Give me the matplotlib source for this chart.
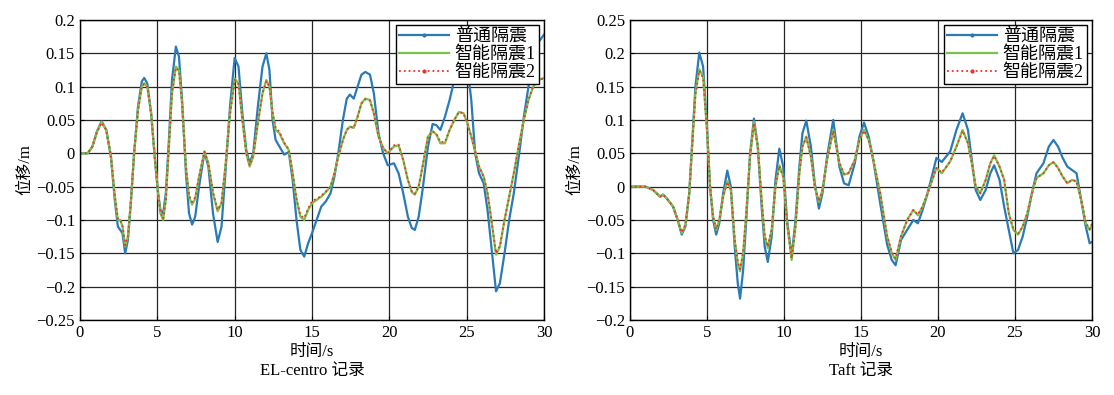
import matplotlib
matplotlib.use('Agg')
import matplotlib.pyplot as plt
import numpy as np
from matplotlib.ticker import FuncFormatter
from matplotlib.lines import Line2D

plt.rcParams['font.family'] = ['Liberation Serif', 'Noto Sans CJK SC', 'DejaVu Sans']
plt.rcParams['axes.unicode_minus'] = True

# ---------------- EL-centro 记录 ----------------
t_el = [0, 0.5, 0.8, 1.1, 1.4, 1.7, 2.0, 2.25, 2.45, 2.6, 2.75, 2.92, 3.1, 3.3, 3.5, 3.75,
        4.0, 4.15, 4.35, 4.6, 4.85, 5.05, 5.2, 5.38, 5.55, 5.75, 5.95, 6.2, 6.4, 6.6, 6.85,
        7.05, 7.25, 7.45, 7.7, 8.05, 8.3, 8.6, 8.9, 9.15, 9.4, 9.7, 10.0, 10.25, 10.5, 10.75,
        10.97, 11.2, 11.5, 11.8, 12.05, 12.25, 12.45, 12.65, 12.9, 13.2, 13.5, 13.75, 14.0,
        14.25, 14.5, 14.75, 15.0, 15.3, 15.6, 15.9, 16.2, 16.45, 16.7, 17.0, 17.25, 17.45,
        17.7, 17.95, 18.2, 18.45, 18.75, 19.0, 19.3, 19.6, 19.9, 20.3, 20.6, 20.9, 21.2,
        21.45, 21.65, 21.9, 22.15, 22.5, 22.8, 23.05, 23.3, 23.6, 23.9, 24.2, 24.5, 24.8,
        25.05, 25.3, 25.55, 25.8, 26.1, 26.35, 26.6, 26.9, 27.15, 27.45, 27.75, 28.05, 28.4,
        28.7, 29.0, 29.3, 29.6, 30.0]

el_normal = [0, 0.0, 0.01, 0.033, 0.048, 0.035, -0.005, -0.07, -0.11, -0.115, -0.12, -0.15,
             -0.13, -0.07, 0.0, 0.07, 0.108, 0.113, 0.105, 0.06, -0.01, -0.06, -0.085, -0.09,
             -0.06, 0.02, 0.11, 0.16, 0.145, 0.08, -0.03, -0.09, -0.107, -0.095, -0.05, 0.002,
             -0.02, -0.09, -0.133, -0.11, -0.03, 0.07, 0.143, 0.13, 0.06, 0.005, -0.015, 0.0,
             0.07, 0.13, 0.15, 0.125, 0.05, 0.02, 0.01, -0.002, 0.002, -0.04, -0.1, -0.145,
             -0.155, -0.135, -0.12, -0.1, -0.08, -0.072, -0.06, -0.035, 0.0, 0.05, 0.082,
             0.088, 0.082, 0.1, 0.118, 0.122, 0.118, 0.09, 0.03, 0.0, -0.018, -0.015, -0.03,
             -0.06, -0.095, -0.112, -0.115, -0.095, -0.055, 0.01, 0.044, 0.042, 0.035, 0.055,
             0.08, 0.11, 0.135, 0.143, 0.13, 0.08, 0.0, -0.03, -0.045, -0.085, -0.14, -0.207,
             -0.195, -0.15, -0.1, -0.06, 0.0, 0.055, 0.1, 0.14, 0.165, 0.178]

el_smart1 = [0, 0.0, 0.01, 0.032, 0.047, 0.035, -0.005, -0.065, -0.1, -0.1, -0.11, -0.14,
             -0.125, -0.07, 0.0, 0.065, 0.1, 0.105, 0.1, 0.06, -0.01, -0.06, -0.09, -0.1,
             -0.07, 0.01, 0.09, 0.13, 0.125, 0.075, -0.02, -0.065, -0.077, -0.068, -0.035,
             0.003, -0.015, -0.06, -0.087, -0.075, -0.02, 0.06, 0.112, 0.105, 0.05, 0.0,
             -0.02, -0.005, 0.045, 0.09, 0.11, 0.1, 0.06, 0.035, 0.03, 0.015, 0.005, -0.03,
             -0.07, -0.095, -0.1, -0.085, -0.075, -0.07, -0.065, -0.058, -0.05, -0.03, -0.005,
             0.02, 0.035, 0.04, 0.038, 0.055, 0.075, 0.082, 0.08, 0.06, 0.025, 0.008, 0.0,
             0.01, 0.012, -0.01, -0.04, -0.058, -0.062, -0.05, -0.02, 0.025, 0.033, 0.028,
             0.015, 0.015, 0.035, 0.05, 0.062, 0.06, 0.045, 0.025, 0.003, -0.02, -0.035, -0.06,
             -0.1, -0.152, -0.14, -0.1, -0.065, -0.03, 0.015, 0.05, 0.08, 0.1, 0.11, 0.113]

el_smart2 = [0, 0.0, 0.01, 0.032, 0.046, 0.035, -0.005, -0.063, -0.098, -0.1, -0.108, -0.138,
             -0.124, -0.07, 0.0, 0.064, 0.1, 0.104, 0.1, 0.06, -0.01, -0.06, -0.088, -0.098,
             -0.07, 0.01, 0.09, 0.128, 0.124, 0.075, -0.02, -0.063, -0.073, -0.066, -0.035,
             0.002, -0.015, -0.058, -0.085, -0.074, -0.02, 0.058, 0.11, 0.104, 0.05, 0.0,
             -0.018, -0.004, 0.045, 0.09, 0.108, 0.1, 0.062, 0.038, 0.032, 0.016, 0.006, -0.03,
             -0.068, -0.093, -0.097, -0.083, -0.072, -0.068, -0.064, -0.057, -0.05, -0.03,
             -0.005, 0.02, 0.035, 0.04, 0.038, 0.055, 0.075, 0.081, 0.079, 0.06, 0.025, 0.008,
             0.0, 0.012, 0.013, -0.01, -0.04, -0.057, -0.061, -0.05, -0.02, 0.025, 0.033,
             0.029, 0.017, 0.017, 0.035, 0.05, 0.062, 0.06, 0.045, 0.025, 0.003, -0.02, -0.035,
             -0.06, -0.1, -0.15, -0.139, -0.1, -0.065, -0.03, 0.015, 0.05, 0.08, 0.1, 0.11,
             0.112]

# ---------------- Taft 记录 ----------------
t_taft = [0, 1.0, 1.5, 1.95, 2.15, 2.4, 2.8, 3.1, 3.36, 3.6, 3.85, 4.05, 4.25, 4.5, 4.75, 5.0,
          5.2, 5.4, 5.6, 5.8, 6.05, 6.32, 6.55, 6.8, 7.0, 7.15, 7.35, 7.55, 7.8, 8.05, 8.3,
          8.55, 8.75, 8.95, 9.2, 9.45, 9.7, 9.95, 10.2, 10.5, 10.75, 11.0, 11.2, 11.45, 11.75,
          12.0, 12.27, 12.5, 12.8, 13.2, 13.6, 13.9, 14.2, 14.6, 14.9, 15.2, 15.5, 15.8,
          16.25, 16.7, 17.0, 17.25, 17.6, 18.0, 18.4, 18.7, 19.0, 19.3, 19.6, 19.9, 20.25,
          20.8, 21.2, 21.6, 21.95, 22.2, 22.45, 22.75, 23.1, 23.4, 23.65, 24.0, 24.3, 24.6,
          24.9, 25.2, 25.5, 25.8, 26.1, 26.4, 26.85, 27.2, 27.5, 27.8, 28.1, 28.4, 28.7,
          29.0, 29.3, 29.6, 29.85, 30.0]

taft_normal = [0, 0, -0.005, -0.015, -0.012, -0.018, -0.03, -0.05, -0.072, -0.06, -0.01,
               0.07, 0.15, 0.201, 0.18, 0.09, 0.0, -0.05, -0.072, -0.055, -0.01, 0.024, 0.0,
               -0.09, -0.145, -0.168, -0.125, -0.05, 0.05, 0.102, 0.06, -0.03, -0.09, -0.113,
               -0.075, 0.01, 0.057, 0.03, -0.05, -0.105, -0.05, 0.03, 0.08, 0.099, 0.06, 0.005,
               -0.033, -0.01, 0.045, 0.1, 0.03, 0.005, 0.002, 0.035, 0.075, 0.096, 0.075, 0.04,
               -0.025, -0.087, -0.11, -0.118, -0.08, -0.065, -0.05, -0.055, -0.035, -0.012,
               0.015, 0.043, 0.037, 0.053, 0.085, 0.11, 0.085, 0.04, -0.005, -0.02, -0.005,
               0.02, 0.032, 0.01, -0.03, -0.065, -0.1, -0.095, -0.075, -0.045, -0.01, 0.02,
               0.035, 0.06, 0.07, 0.06, 0.043, 0.03, 0.025, 0.02, -0.02, -0.06, -0.085, -0.083]

taft_smart1 = [0, 0, -0.005, -0.015, -0.012, -0.018, -0.03, -0.05, -0.07, -0.058, -0.01,
               0.065, 0.14, 0.176, 0.165, 0.085, 0.0, -0.045, -0.065, -0.05, -0.015, 0.008,
               -0.005, -0.08, -0.115, -0.127, -0.1, -0.04, 0.045, 0.097, 0.06, -0.02, -0.075,
               -0.092, -0.065, 0.0, 0.032, 0.015, -0.055, -0.11, -0.06, 0.02, 0.06, 0.075,
               0.045, 0.0, -0.023, -0.005, 0.04, 0.085, 0.035, 0.018, 0.02, 0.04, 0.07, 0.085,
               0.07, 0.04, -0.01, -0.075, -0.1, -0.11, -0.075, -0.05, -0.035, -0.043, -0.03,
               -0.012, 0.008, 0.028, 0.02, 0.038, 0.06, 0.085, 0.065, 0.035, 0.0, -0.01, 0.01,
               0.035, 0.047, 0.03, 0.01, -0.04, -0.065, -0.072, -0.06, -0.04, -0.01, 0.013,
               0.02, 0.032, 0.037, 0.028, 0.015, 0.005, 0.01, 0.008, -0.02, -0.055, -0.065,
               -0.057]

taft_smart2 = [0, 0, -0.005, -0.015, -0.012, -0.018, -0.03, -0.05, -0.069, -0.057, -0.01,
               0.064, 0.138, 0.174, 0.163, 0.085, 0.0, -0.045, -0.064, -0.05, -0.015, 0.007,
               -0.005, -0.078, -0.113, -0.124, -0.098, -0.04, 0.045, 0.095, 0.06, -0.02,
               -0.073, -0.09, -0.064, 0.0, 0.031, 0.015, -0.054, -0.108, -0.06, 0.02, 0.06,
               0.074, 0.045, 0.0, -0.022, -0.005, 0.04, 0.084, 0.036, 0.019, 0.021, 0.04,
               0.07, 0.084, 0.07, 0.04, -0.01, -0.074, -0.098, -0.108, -0.074, -0.05, -0.035,
               -0.042, -0.03, -0.012, 0.008, 0.028, 0.021, 0.038, 0.06, 0.084, 0.065, 0.035,
               0.0, -0.01, 0.01, 0.035, 0.046, 0.03, 0.01, -0.04, -0.064, -0.071, -0.06, -0.04,
               -0.01, 0.013, 0.02, 0.032, 0.036, 0.028, 0.015, 0.005, 0.01, 0.008, -0.02,
               -0.054, -0.064, -0.056]

labels = ['普通隔震', '智能隔震1', '智能隔震2']
captions = ['EL-centro 记录', 'Taft 记录']
colors = ['#2a7ab8', '#7cc24a', '#f0302a']

fig = plt.figure(figsize=(11.14, 3.95), dpi=100)
ax1 = fig.add_axes([0.0718, 0.19, 0.4165, 0.7595])
ax2 = fig.add_axes([0.5655, 0.19, 0.4147, 0.7595])


def fmt(v, pos):
    s = ('%.2f' % v).rstrip('0').rstrip('.')
    if s in ('-0', '0'):
        return '0'
    return s.replace('-', '\u2212')


panels = [
    (ax1, t_el, el_normal, el_smart1, el_smart2, (-0.25, 0.2), captions[0]),
    (ax2, t_taft, taft_normal, taft_smart1, taft_smart2, (-0.2, 0.25), captions[1]),
]

for ax, t, y0, y1, y2, ylim, cap in panels:
    ax.plot(t, y0, '-', color=colors[0], lw=1.6)
    ax.plot(t, y1, '-', color=colors[1], lw=1.6)
    ax.plot(t, y2, ':', color=colors[2], lw=1.3)

    ax.set_xlim(0, 30)
    ax.set_ylim(*ylim)
    ax.set_xticks(np.arange(0, 31, 5))
    ax.set_yticks(np.arange(ylim[0], ylim[1] + 0.001, 0.05))
    ax.yaxis.set_major_formatter(FuncFormatter(fmt))
    ax.grid(True, color='0.15', lw=0.9)
    ax.tick_params(direction='in', labelsize=12, length=3)
    for sp in ax.spines.values():
        sp.set_linewidth(1.0)

    ax.set_ylabel('位移/m', fontsize=12, labelpad=2)
    ax.set_xlabel('时间/s\n' + cap, fontsize=12, labelpad=2, linespacing=1.3)

    # legend handles carry a single dot marker, as in the original figure
    handles = [
        Line2D([], [], color=colors[0], lw=1.6, marker='.', ms=4),
        Line2D([], [], color=colors[1], lw=1.6),
        Line2D([], [], color=colors[2], lw=1.3, ls=':', marker='.', ms=4),
    ]
    leg = ax.legend(handles, labels, loc='upper right', fontsize=13, frameon=True,
                    fancybox=False, edgecolor='black', framealpha=1, borderpad=0.15,
                    labelspacing=0.05, handlelength=2.8, handletextpad=0.3,
                    borderaxespad=0.3, numpoints=1)
    leg.get_frame().set_linewidth(1.0)

fig.savefig('out.png', dpi=100)
